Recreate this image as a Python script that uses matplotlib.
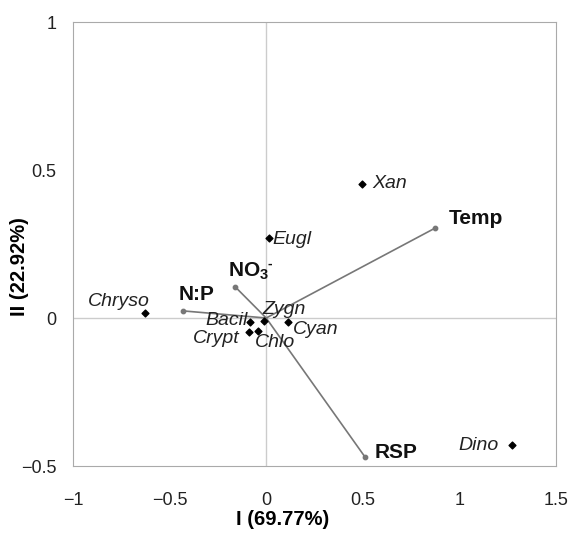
import matplotlib.pyplot as plt

plt.rcParams['font.family'] = ['Liberation Sans', 'DejaVu Sans']
plt.rcParams['mathtext.default'] = 'regular'

# species scores (axis I, axis II)
species = ['Xan', 'Eugl', 'Chryso', 'Zygn', 'Bacil', 'Crypt', 'Chlo', 'Cyan', 'Dino']
sp_x = [0.497, 0.016, -0.626, -0.01, -0.083, -0.088, -0.041, 0.114, 1.273]
sp_y = [0.453, 0.27, 0.017, -0.01, -0.014, -0.047, -0.044, -0.014, -0.43]

# environmental vectors
env = ['Temp', 'NO$_3$', 'N:P', 'RSP']
env_x = [0.875, -0.16, -0.43, 0.512]
env_y = [0.304, 0.105, 0.024, -0.47]

# label offsets in points
sp_off = {'Xan': (7, 0, 'left'), 'Eugl': (2, -1, 'left'),
          'Chryso': (3.6, 8, 'right'), 'Zygn': (-1.5, 8, 'left'),
          'Bacil': (-1.5, 1.5, 'right'), 'Crypt': (-7, -4.5, 'right'),
          'Chlo': (-2.7, -8, 'left'), 'Cyan': (3.6, -5, 'left'),
          'Dino': (-9.4, 0, 'right')}
env_off = [(9.4, 7, 'left'), (-5, 11.5, 'left'), (-3, 11.5, 'left'), (7, 3.6, 'left')]

fig = plt.figure(figsize=(5.72, 5.33), dpi=100)
ax = fig.add_axes([0.1276, 0.1257, 0.8444, 0.833])

ax.axhline(0, color='#cccccc', lw=1, zorder=0)
ax.axvline(0, color='#cccccc', lw=1, zorder=0)

for x, y in zip(env_x, env_y):
    ax.plot([0, x], [0, y], color='#777777', lw=1.2, zorder=1)
ax.scatter(env_x, env_y, s=10, color='#777777', zorder=2)
for name, x, y, (dx, dy, ha) in zip(env, env_x, env_y, env_off):
    ax.annotate(name, (x, y), xytext=(dx, dy), textcoords='offset points',
                ha=ha, va='center', fontsize=15, fontweight='bold', color='#111111')
# charge sign on nitrate
ax.annotate('-', (env_x[1], env_y[1]), xytext=(23.5, 17), textcoords='offset points',
            ha='left', va='center', fontsize=10, fontweight='bold', color='#111111')

ax.scatter(sp_x, sp_y, marker='D', s=12, color='black', zorder=3)
for name, x, y in zip(species, sp_x, sp_y):
    dx, dy, ha = sp_off[name]
    ax.annotate(name, (x, y), xytext=(dx, dy), textcoords='offset points',
                ha=ha, va='center', fontsize=14, style='italic', color='#222222')

ax.set_xlim(-1, 1.5)
ax.set_ylim(-0.5, 1)
ax.set_xticks([-1, -0.5, 0, 0.5, 1, 1.5])
ax.set_xticklabels(['\u22121', '\u22120.5', '0', '0.5', '1', '1.5'])
ax.set_yticks([-0.5, 0, 0.5, 1])
ax.set_yticklabels(['\u22120.5', '0', '0.5', '1'])
ax.tick_params(length=0, labelsize=13, labelcolor='#222222')
ax.tick_params(axis='x', pad=19)
ax.tick_params(axis='y', pad=12)
for s in ax.spines.values():
    s.set_color('#aaaaaa')
ax.set_xlabel('I (69.77%)', fontsize=14.5, fontweight='bold')
ax.set_ylabel('II (22.92%)', fontsize=14.5, fontweight='bold')
ax.xaxis.set_label_coords(0.435, -0.1)
ax.yaxis.set_label_coords(-0.091, 0.45)

plt.savefig('out.png', dpi=100)
